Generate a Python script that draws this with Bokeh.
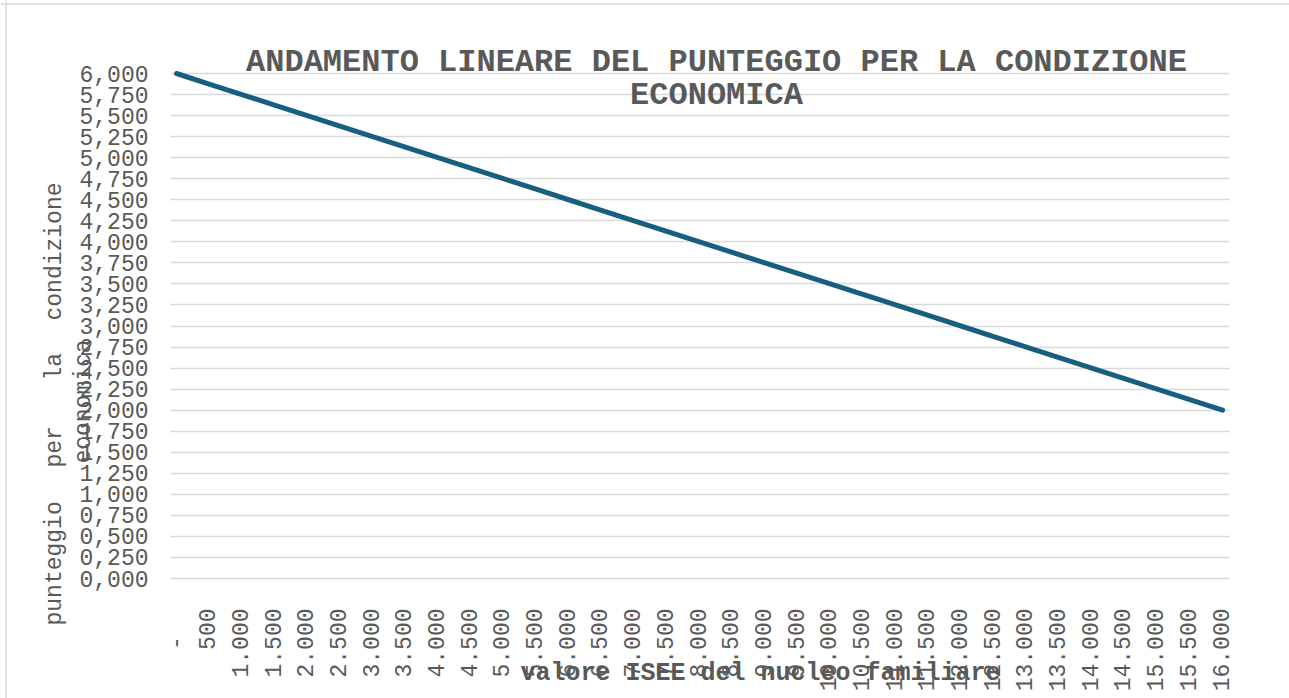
from math import pi
from bokeh.plotting import figure
from bokeh.models import Range1d, FixedTicker, Label, Span
from bokeh.embed import file_html
from bokeh.resources import INLINE

# ---- data ----
isee = [0, 500, 1000, 1500, 2000, 2500, 3000, 3500, 4000, 4500, 5000, 5500,
        6000, 6500, 7000, 7500, 8000, 8500, 9000, 9500, 10000, 10500, 11000,
        11500, 12000, 12500, 13000, 13500, 14000, 14500, 15000, 15500, 16000]
punteggio = [6.000, 5.875, 5.750, 5.625, 5.500, 5.375, 5.250, 5.125, 5.000,
             4.875, 4.750, 4.625, 4.500, 4.375, 4.250, 4.125, 4.000, 3.875,
             3.750, 3.625, 3.500, 3.375, 3.250, 3.125, 3.000, 2.875, 2.750,
             2.625, 2.500, 2.375, 2.250, 2.125, 2.000]
x_tick_labels = ["-\u00a0\u00a0", "500", "1.000", "1.500", "2.000", "2.500", "3.000",
                 "3.500", "4.000", "4.500", "5.000", "5.500", "6.000", "6.500",
                 "7.000", "7.500", "8.000", "8.500", "9.000", "9.500", "10.000",
                 "10.500", "11.000", "11.500", "12.000", "12.500", "13.000",
                 "13.500", "14.000", "14.500", "15.000", "15.500", "16.000"]
y_ticks = [0, 0.25, 0.5, 0.75, 1, 1.25, 1.5, 1.75, 2, 2.25, 2.5, 2.75, 3,
           3.25, 3.5, 3.75, 4, 4.25, 4.5, 4.75, 5, 5.25, 5.5, 5.75, 6]
y_tick_labels = ["0,000", "0,250", "0,500", "0,750", "1,000", "1,250", "1,500",
                 "1,750", "2,000", "2,250", "2,500", "2,750", "3,000", "3,250",
                 "3,500", "3,750", "4,000", "4,250", "4,500", "4,750", "5,000",
                 "5,250", "5,500", "5,750", "6,000"]
title_lines = ["ANDAMENTO LINEARE DEL PUNTEGGIO PER LA CONDIZIONE", "ECONOMICA"]
x_title = "valore ISEE del nucleo familiare"
y_title_words = ["punteggio", "per", "la", "condizione"]
y_title_line2 = "economica"

FONT = "Liberation Mono"
GREY = "#595959"
W, H = 1289, 698

# ---- layout helpers (page pixels -> data coords) ----
XS = 1046 / 16000.0
YS = 505 / 6.0
def px_x(px):
    return (px - 176) / XS
def px_y(py):
    return 6 - (py - 73) / YS

p = figure(width=W, height=H, output_backend="svg", toolbar_location=None,
           x_range=Range1d(px_x(0), px_x(W)),
           y_range=Range1d(px_y(H), px_y(0)),
           min_border=0)
p.outline_line_color = None
p.background_fill_color = "white"
p.border_fill_color = "white"

# chart-area border (top and left edges visible)
p.add_layout(Span(location=px_y(3.5), dimension="width", line_color="#d9d9d9", line_width=1.5))
p.add_layout(Span(location=px_x(5.5), dimension="height", line_color="#d9d9d9", line_width=1.5))

# axes drawn at fixed positions inside the frame
p.xaxis.fixed_location = 0
p.yaxis.fixed_location = px_x(170)
p.xaxis.ticker = FixedTicker(ticks=isee)
p.xaxis.major_label_overrides = {v: s for v, s in zip(isee, x_tick_labels)}
p.xaxis.major_label_orientation = pi / 2
p.xaxis.major_label_standoff = 30
p.yaxis.ticker = FixedTicker(ticks=y_ticks)
p.yaxis.major_label_overrides = {v: s for v, s in zip(y_ticks, y_tick_labels)}
p.yaxis.major_label_standoff = 22
for ax in (p.xaxis, p.yaxis):
    ax.axis_line_color = None
    ax.major_tick_line_color = None
    ax.minor_tick_line_color = None
    ax.major_tick_out = 0
    ax.major_tick_in = 0
    ax.major_label_text_font = FONT
    ax.major_label_text_font_size = "23px"
    ax.major_label_text_color = GREY

p.xgrid.grid_line_color = None
p.ygrid.ticker = FixedTicker(ticks=y_ticks)
p.ygrid.grid_line_color = "#d9d9d9"
p.ygrid.grid_line_width = 1.5
p.ygrid.cross_bounds = (px_x(170), px_x(1229))

p.line(isee, punteggio, line_color="#175E80", line_width=5, line_cap="round")

# title
p.add_layout(Label(x=px_x(716), y=px_y(62), text=title_lines[0], text_align="center",
                   text_baseline="alphabetic", text_font=FONT, text_font_size="32px",
                   text_font_style="bold", text_color=GREY))
p.add_layout(Label(x=px_x(716), y=px_y(95), text=title_lines[1], text_align="center",
                   text_baseline="alphabetic", text_font=FONT, text_font_size="32px",
                   text_font_style="bold", text_color=GREY))

# x axis title
p.add_layout(Label(x=px_x(760), y=px_y(673), text=x_title, text_align="center",
                   text_baseline="alphabetic", text_font=FONT, text_font_size="25px",
                   text_font_style="bold", text_color=GREY))

# y axis title (two lines, first spread out)
starts = [625, 467, 380, 320]
for w, s in zip(y_title_words, starts):
    p.add_layout(Label(x=px_x(54), y=px_y(s), text=w, angle=pi / 2, text_align="left",
                       text_baseline="alphabetic", text_font=FONT, text_font_size="23px",
                       text_color=GREY))
p.add_layout(Label(x=px_x(83), y=px_y(401), text=y_title_line2, angle=pi / 2,
                   text_align="center", text_baseline="alphabetic", text_font=FONT,
                   text_font_size="23px", text_color=GREY))

open("out.html", "w").write(file_html(p, INLINE))
